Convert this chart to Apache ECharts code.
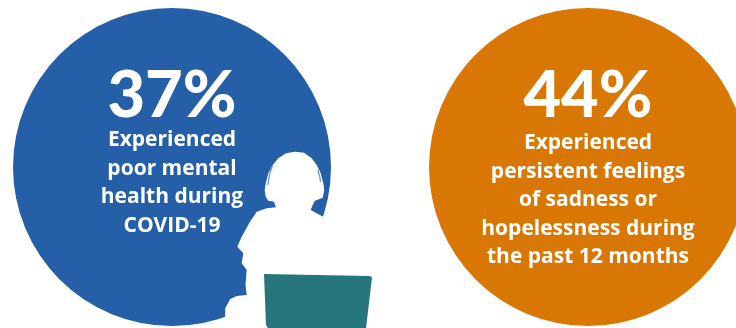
<!DOCTYPE html>
<html>
<head>
<meta charset="utf-8">
<style>html,body{margin:0;padding:0;background:#fff}#main{width:736px;height:328px}</style>
<script src="https://cdn.jsdelivr.net/npm/echarts@6/dist/echarts.min.js"></script>
</head>
<body>
<div id="main"></div>
<script>
// Youth mental health statistics, one disc per figure
const statNames = ['Poor mental health', 'Persistent sadness'];
const statValues = [37, 44];
const statColors = ['#245fa8', '#d97705'];
const statCaptions = [
  ['Experienced', 'poor mental', 'health during', 'COVID-19'],
  ['Experienced', 'persistent feelings', 'of sadness or', 'hopelessness during', 'the past 12 months']
];

const discCenters = [[172, 167], [588, 167]];
const discRadius = 159;
const HEAD_FONT = 'Lato, "Open Sans", sans-serif';
const BODY_FONT = '"Open Sans", Lato, sans-serif';

// Seated figure with headphones, white against the blue disc
const figureOutline = [
  [276,207.3],[274,201.7],[268.3,200.7],[265.7,196.7],[264.7,190],[265.7,183.3],[268.3,173.3],
  [272.7,165],[278.3,158.3],[286,153.3],[295,151.7],[304,152.7],[311.7,158.3],[316.7,165],
  [320.7,173.3],[323.3,183.3],[324.3,190],[322.7,197.7],[315,200.7],[312.7,205],[310.7,210],
  [316.7,213.3],[324,217.3],[340,217.3],[340,328],[225,328],[225,320],[225.3,308.3],[230,299.3],
  [236.7,296],[246.7,295],[245.5,285],[246.7,270],[241.7,263.3],[243.3,253.3],[237.3,246.7],
  [241.7,236.7],[250,221.7],[256.7,211.7],[266.7,208.3]
];
const laptopOutline = [[264,274],[370,276],[372,277.5],[366,328],[268,328],[266,325]];
const headbandGaps = [
  [[272.5,166],[269.5,174],[268,185]],
  [[318,170],[320,178],[320.5,182]]
];

const pies = statValues.map((v, i) => ({
  type: 'pie',
  name: statNames[i],
  center: discCenters[i],
  radius: [0, discRadius],
  silent: true,
  startAngle: 90,
  data: [{ name: statNames[i], value: v, itemStyle: { color: statColors[i] } }],
  label: {
    show: true,
    position: 'center',
    formatter: '{c}%',
    offset: [0, -71],
    color: '#fff',
    fontFamily: HEAD_FONT,
    fontWeight: 900,
    fontSize: 65
  },
  labelLine: { show: false },
  emphasis: { disabled: true }
}));

const lineStep = 28.6;
const captionTop = [140, 143];
const captions = [];
statCaptions.forEach((lines, i) => {
  lines.forEach((text, j) => {
    captions.push({
      type: 'text',
      z: 20,
      x: discCenters[i][0],
      y: captionTop[i] + j * lineStep,
      style: {
        text,
        fill: '#fff',
        font: 'bold 21px ' + BODY_FONT,
        textAlign: 'center',
        textVerticalAlign: 'middle'
      }
    });
  });
});

const chart = echarts.init(document.getElementById('main'), null, { renderer: 'canvas' });
chart.setOption({
  backgroundColor: '#fff',
  animation: false,
  series: pies,
  graphic: [
    { type: 'polygon', z: 10, shape: { points: figureOutline }, style: { fill: '#fff' } },
    { type: 'polygon', z: 11, shape: { points: laptopOutline }, style: { fill: '#26767c' } },
    ...headbandGaps.map(points => ({
      type: 'polyline', z: 11, shape: { points },
      style: { stroke: '#6f9bd0', lineWidth: 1.3, fill: null }
    })),
    ...captions
  ]
});
</script>
</body>
</html>
